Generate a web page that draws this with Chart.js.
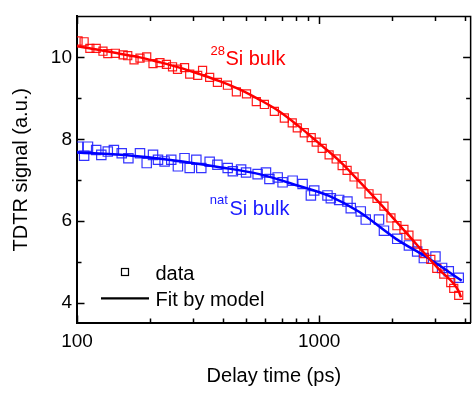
<!DOCTYPE html>
<html>
<head>
<meta charset="utf-8">
<script src="https://cdn.jsdelivr.net/npm/chart.js@4.4.1/dist/chart.umd.min.js"></script>
<style>
  html, body { margin: 0; padding: 0; background: #fff; }
</style>
</head>
<body>
<canvas id="tdtrChart" width="472" height="394"></canvas>
<script>
// values: delay time (ps) and TDTR signal (a.u.)
const si28Time = [101, 107, 113, 120, 128, 134, 144, 155, 162, 172, 182, 194, 206, 220, 234, 248, 260, 278, 292, 315,
  330, 353, 380, 418, 455, 501, 550, 594, 653, 718, 774, 812, 868, 927, 972, 1029, 1099, 1175, 1244, 1304,
  1393, 1489, 1606, 1733, 1851, 1978, 2094, 2238, 2347, 2531, 2705, 2890, 3059, 3269, 3493, 3594, 3768];
const si28Signal = [10.40, 10.38, 10.22, 10.22, 10.15, 10.09, 10.10, 10.06, 10.04, 9.94, 9.98, 10.01, 9.85, 9.87, 9.83, 9.77, 9.71, 9.75, 9.59, 9.56,
  9.68, 9.51, 9.39, 9.32, 9.16, 9.11, 8.92, 8.85, 8.68, 8.52, 8.40, 8.28, 8.16, 8.04, 7.93, 7.78, 7.62, 7.52, 7.36, 7.24,
  7.08, 6.91, 6.67, 6.56, 6.37, 6.08, 5.89, 5.80, 5.66, 5.44, 5.21, 5.07, 4.85, 4.71, 4.50, 4.36, 4.19];

const si28FitTime = [100, 124, 150, 182, 220, 265, 321, 388, 469, 566, 685, 827, 1000, 1209, 1461, 1766, 2134, 2579, 3117, 3768, 3850];
const si28FitSignal = [10.27, 10.18, 10.09, 10.00, 9.88, 9.75, 9.59, 9.42, 9.22, 8.97, 8.68, 8.31, 7.90, 7.48, 6.98, 6.46, 5.92, 5.37, 4.83, 4.29, 4.14];

const natTime = [101, 107, 111, 120, 126, 134, 142, 153, 163, 182, 194, 206, 216, 230, 245, 261, 278, 292, 311, 326,
  353, 380, 419, 440, 476, 499, 557, 603, 623, 674, 706, 777, 854, 924, 954, 1082, 1117, 1209, 1308, 1350,
  1485, 1557, 1766, 1851, 2100, 2347, 2538, 2705, 3021, 3217, 3428, 3768];
const natSignal = [7.82, 7.60, 7.82, 7.74, 7.62, 7.70, 7.74, 7.66, 7.54, 7.66, 7.42, 7.62, 7.50, 7.46, 7.50, 7.34, 7.54, 7.30, 7.50, 7.30,
  7.45, 7.38, 7.30, 7.22, 7.26, 7.19, 7.15, 7.19, 7.03, 7.07, 6.95, 6.99, 6.91, 6.63, 6.75, 6.63, 6.56, 6.52, 6.48, 6.32,
  6.24, 6.04, 6.04, 5.77, 5.57, 5.41, 5.26, 5.10, 5.14, 4.86, 4.78, 4.62];

const natFitTime = [100, 161, 248, 388, 566, 827, 1099, 1461, 2075, 2836, 3877];
const natFitSignal = [7.68, 7.61, 7.49, 7.32, 7.15, 6.86, 6.62, 6.23, 5.57, 5.09, 4.55];

const xTickValues = [100, 200, 300, 400, 500, 600, 700, 800, 900, 1000, 2000, 3000, 4000];
const xLabelValues = [100, 1000];
const yTickValues = [4, 5, 6, 7, 8, 9, 10];
const yLabelValues = [4, 6, 8, 10];

const FONT = "'Liberation Sans', Arial, sans-serif";

function toPoints(xs, ys) {
  return xs.map((x, i) => ({ x: x, y: ys[i] }));
}

// ticks pointing inward on all four sides, plus the top/right frame
const innerTicks = {
  id: 'innerTicks',
  afterDraw(chart) {
    const { ctx, chartArea: a, scales } = chart;
    ctx.save();
    ctx.strokeStyle = '#000';
    ctx.lineWidth = 1.5;
    ctx.beginPath();
    ctx.moveTo(a.left, a.top);
    ctx.lineTo(a.right, a.top);
    ctx.lineTo(a.right, a.bottom);
    ctx.stroke();

    ctx.lineWidth = 1.5;
    ctx.beginPath();
    scales.x.ticks.forEach(t => {
      const px = Math.round(scales.x.getPixelForValue(t.value)) + 0.5;
      const len = xLabelValues.includes(t.value) ? 7.5 : 4.5;
      ctx.moveTo(px, a.bottom);
      ctx.lineTo(px, a.bottom - len);
      ctx.moveTo(px, a.top);
      ctx.lineTo(px, a.top + len);
    });
    scales.y.ticks.forEach(t => {
      const py = Math.round(scales.y.getPixelForValue(t.value)) + 0.5;
      const len = yLabelValues.includes(t.value) ? 7.5 : 4.5;
      ctx.moveTo(a.left, py);
      ctx.lineTo(a.left + len, py);
      ctx.moveTo(a.right, py);
      ctx.lineTo(a.right - len, py);
    });
    ctx.stroke();
    ctx.restore();
  }
};

// legend in the lower left and the two sample labels
const notes = {
  id: 'notes',
  afterDraw(chart) {
    const { ctx, chartArea: a, scales } = chart;
    ctx.save();
    ctx.textAlign = 'left';
    ctx.textBaseline = 'alphabetic';

    // legend
    ctx.strokeStyle = '#000';
    ctx.lineWidth = 1.2;
    ctx.strokeRect(a.left + 44.5, 268.5, 7, 7);
    ctx.lineWidth = 2.2;
    ctx.beginPath();
    ctx.moveTo(a.left + 24, 298.3);
    ctx.lineTo(a.left + 72, 298.3);
    ctx.stroke();
    ctx.fillStyle = '#000';
    ctx.font = '20px ' + FONT;
    ctx.fillText('data', a.left + 78.5, 279.5);
    ctx.fillText('Fit by model', a.left + 78.5, 305.5);

    // 28Si bulk
    let x = scales.x.getPixelForValue(410);
    let y = scales.y.getPixelForValue(9.82);
    ctx.fillStyle = '#ff0000';
    ctx.font = '20px ' + FONT;
    ctx.fillText('Si bulk', x, y);
    ctx.font = '13px ' + FONT;
    ctx.textAlign = 'right';
    ctx.fillText('28', x - 0.5, y - 10);

    // natSi bulk
    x = scales.x.getPixelForValue(426);
    y = scales.y.getPixelForValue(6.16);
    ctx.fillStyle = '#1a1aff';
    ctx.textAlign = 'left';
    ctx.font = '20px ' + FONT;
    ctx.fillText('Si bulk', x, y);
    ctx.font = '13px ' + FONT;
    ctx.textAlign = 'right';
    ctx.fillText('nat', x - 1.5, y - 11);
    ctx.restore();
  }
};

const config = {
  type: 'scatter',
  data: {
    datasets: [
      {
        label: '28Si fit',
        data: toPoints(si28FitTime, si28FitSignal),
        showLine: true,
        borderColor: '#ff0000',
        borderWidth: 2.5,
        pointRadius: 0,
        cubicInterpolationMode: 'monotone',
        order: 0
      },
      {
        label: 'natSi fit',
        data: toPoints(natFitTime, natFitSignal),
        showLine: true,
        borderColor: '#0000ff',
        borderWidth: 2.5,
        pointRadius: 0,
        cubicInterpolationMode: 'monotone',
        order: 1
      },
      {
        label: '28Si data',
        data: toPoints(si28Time, si28Signal),
        pointStyle: 'rect',
        pointRadius: 5.7,
        pointBorderWidth: 1.2,
        pointBorderColor: 'rgba(255,0,0,0.9)',
        pointBackgroundColor: 'rgba(0,0,0,0)',
        order: 2
      },
      {
        label: 'natSi data',
        data: toPoints(natTime, natSignal),
        pointStyle: 'rect',
        pointRadius: 6.6,
        pointBorderWidth: 1.2,
        pointBorderColor: 'rgba(30,30,255,0.9)',
        pointBackgroundColor: 'rgba(0,0,0,0)',
        order: 3
      }
    ]
  },
  options: {
    responsive: false,
    animation: false,
    events: [],
    layout: { autoPadding: false, padding: { top: 7, right: 0, bottom: 0, left: 0 } },
    plugins: {
      legend: { display: false },
      tooltip: { enabled: false }
    },
    scales: {
      x: {
        type: 'logarithmic',
        min: 100,
        max: 4220,
        afterBuildTicks: scale => { scale.ticks = xTickValues.map(v => ({ value: v })); },
        afterFit: scale => { scale.height = 71; },
        grid: { display: false, drawTicks: false, tickLength: 0 },
        border: { display: true, color: '#000', width: 2 },
        ticks: {
          autoSkip: false,
          maxRotation: 0,
          padding: 7,
          color: '#000',
          font: { family: FONT, size: 19 },
          callback: v => (xLabelValues.includes(v) ? String(v) : '')
        },
        title: {
          display: true,
          text: 'Delay time (ps)',
          color: '#000',
          font: { family: FONT, size: 20 },
          padding: { top: 0, bottom: 6 }
        }
      },
      y: {
        type: 'linear',
        min: 3.516,
        max: 11.0,
        afterBuildTicks: scale => { scale.ticks = yTickValues.map(v => ({ value: v })); },
        afterFit: scale => { scale.width = 77; },
        grid: { display: false, drawTicks: false, tickLength: 0 },
        border: { display: true, color: '#000', width: 2 },
        ticks: {
          padding: 5,
          color: '#000',
          font: { family: FONT, size: 19 },
          callback: v => (yLabelValues.includes(v) ? String(v) : '')
        },
        title: {
          display: true,
          text: 'TDTR signal (a.u.)',
          color: '#000',
          font: { family: FONT, size: 20 },
          padding: { top: 9, bottom: 0 }
        }
      }
    }
  },
  plugins: [innerTicks, notes]
};

const tdtrChart = new Chart(document.getElementById('tdtrChart'), config);
</script>
</body>
</html>
